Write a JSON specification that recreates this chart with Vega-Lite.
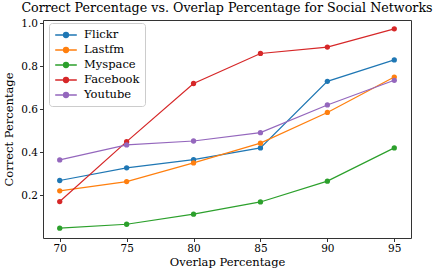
{
  "$schema": "https://vega.github.io/schema/vega-lite/v6.json",
  "width": 368,
  "height": 218,
  "autosize": {"type": "none"},
  "padding": {"left": 43, "top": 20, "right": 22, "bottom": 32},
  "background": "white",
  "title": {
    "text": "Correct Percentage vs. Overlap Percentage for Social Networks",
    "font": "DejaVu Serif",
    "fontSize": 12.7,
    "fontWeight": "normal",
    "color": "black",
    "anchor": "middle",
    "offset": 4
  },
  "config": {
    "view": {"stroke": "#333", "strokeWidth": 1},
    "axis": {
      "labelFont": "DejaVu Serif",
      "titleFont": "DejaVu Serif",
      "labelFontSize": 10.5,
      "titleFontSize": 11.5,
      "titleFontWeight": "normal",
      "labelColor": "black",
      "titleColor": "black",
      "tickColor": "#333",
      "domain": false,
      "grid": false,
      "tickSize": 3.5
    }
  },
  "data": {
    "values": [
      {"network": "Flickr", "overlap": 70, "correct": 0.268},
      {"network": "Flickr", "overlap": 75, "correct": 0.327},
      {"network": "Flickr", "overlap": 80, "correct": 0.365},
      {"network": "Flickr", "overlap": 85, "correct": 0.42},
      {"network": "Flickr", "overlap": 90, "correct": 0.73},
      {"network": "Flickr", "overlap": 95, "correct": 0.83},
      {"network": "Lastfm", "overlap": 70, "correct": 0.22},
      {"network": "Lastfm", "overlap": 75, "correct": 0.263},
      {"network": "Lastfm", "overlap": 80, "correct": 0.35},
      {"network": "Lastfm", "overlap": 85, "correct": 0.442},
      {"network": "Lastfm", "overlap": 90, "correct": 0.585},
      {"network": "Lastfm", "overlap": 95, "correct": 0.75},
      {"network": "Myspace", "overlap": 70, "correct": 0.046},
      {"network": "Myspace", "overlap": 75, "correct": 0.064},
      {"network": "Myspace", "overlap": 80, "correct": 0.111},
      {"network": "Myspace", "overlap": 85, "correct": 0.168},
      {"network": "Myspace", "overlap": 90, "correct": 0.265},
      {"network": "Myspace", "overlap": 95, "correct": 0.42},
      {"network": "Facebook", "overlap": 70, "correct": 0.17},
      {"network": "Facebook", "overlap": 75, "correct": 0.449},
      {"network": "Facebook", "overlap": 80, "correct": 0.72},
      {"network": "Facebook", "overlap": 85, "correct": 0.86},
      {"network": "Facebook", "overlap": 90, "correct": 0.89},
      {"network": "Facebook", "overlap": 95, "correct": 0.975},
      {"network": "Youtube", "overlap": 70, "correct": 0.364},
      {"network": "Youtube", "overlap": 75, "correct": 0.434},
      {"network": "Youtube", "overlap": 80, "correct": 0.452},
      {"network": "Youtube", "overlap": 85, "correct": 0.491},
      {"network": "Youtube", "overlap": 90, "correct": 0.62},
      {"network": "Youtube", "overlap": 95, "correct": 0.735}
    ]
  },
  "encoding": {
    "x": {
      "field": "overlap",
      "type": "quantitative",
      "scale": {"domain": [68.75, 96.25], "nice": false, "zero": false},
      "axis": {"values": [70, 75, 80, 85, 90, 95], "title": "Overlap Percentage", "titlePadding": 2, "labelPadding": 2}
    },
    "y": {
      "field": "correct",
      "type": "quantitative",
      "scale": {"domain": [0.0, 1.016], "nice": false, "zero": false},
      "axis": {"values": [0.2, 0.4, 0.6, 0.8, 1.0], "format": ".1f", "title": "Correct Percentage", "titlePadding": 6, "labelPadding": 2}
    },
    "color": {
      "field": "network",
      "type": "nominal",
      "sort": ["Flickr", "Lastfm", "Myspace", "Facebook", "Youtube"],
      "scale": {
        "domain": ["Flickr", "Lastfm", "Myspace", "Facebook", "Youtube"],
        "range": ["#1f77b4", "#ff7f0e", "#2ca02c", "#d62728", "#9467bd"]
      },
      "legend": {
        "title": null,
        "orient": "none",
        "legendX": 6,
        "legendY": 3,
        "padding": 5,
        "fillColor": "white",
        "strokeColor": "#ccc",
        "cornerRadius": 3,
        "labelFont": "DejaVu Serif",
        "labelFontSize": 11.5,
        "labelColor": "black",
        "rowPadding": 2,
        "symbolType": "M-1.8,0H1.8M-0.4,0A0.4,0.4 0 1,1 0.4,0A0.4,0.4 0 1,1 -0.4,0ZM-0.24,0A0.24,0.24 0 1,1 0.24,0A0.24,0.24 0 1,1 -0.24,0ZM-0.08,0A0.08,0.08 0 1,1 0.08,0A0.08,0.08 0 1,1 -0.08,0Z",
        "symbolSize": 144,
        "symbolStrokeWidth": 1.5,
        "symbolOffset": 5,
        "labelOffset": 11
      }
    }
  },
  "layer": [
    {"mark": {"type": "line", "strokeWidth": 1.2}},
    {"mark": {"type": "point", "filled": true, "size": 28, "opacity": 1}}
  ]
}
